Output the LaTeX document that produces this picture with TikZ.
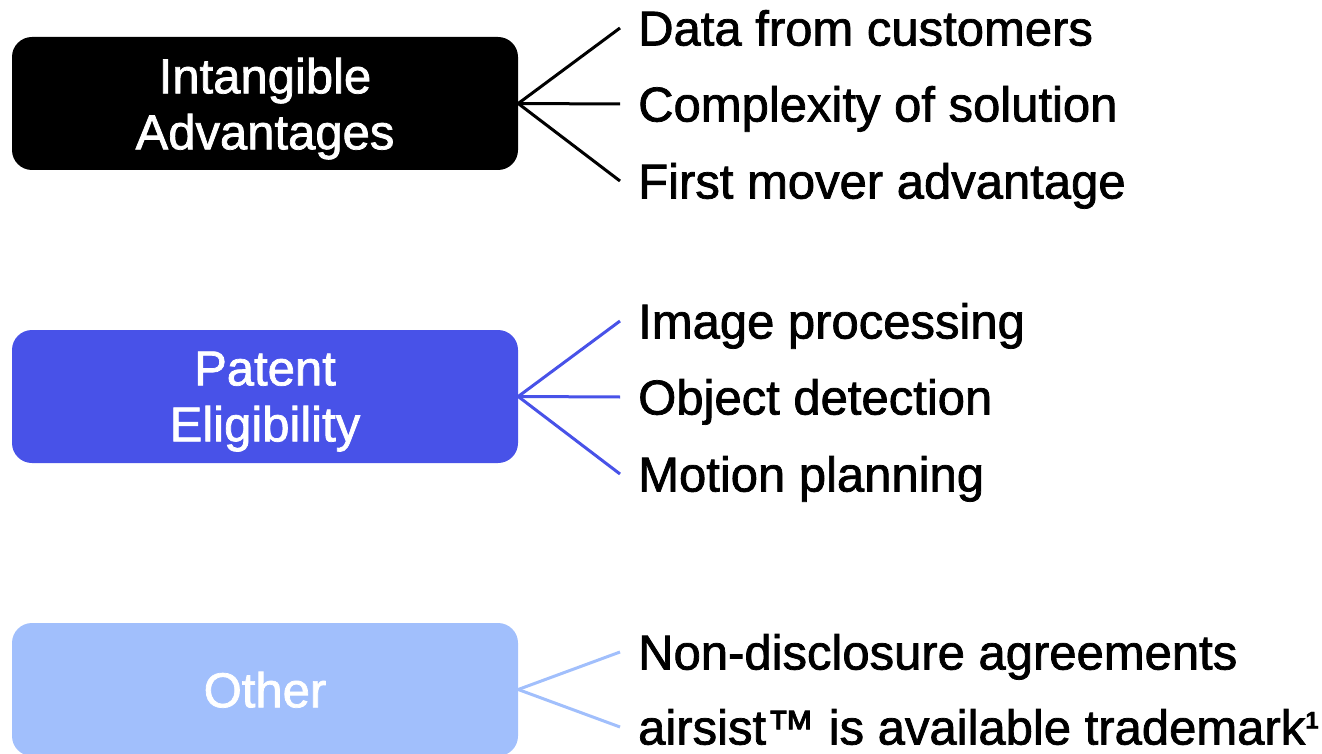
\documentclass[tikz,border=0pt]{standalone}
\usepackage{fontspec}
\setmainfont{Liberation Sans}
\newfontfamily\labelfont[FakeBold=1.5]{Liberation Sans}
\definecolor{patentblue}{HTML}{4852E8}
\definecolor{otherblue}{HTML}{A1BFFC}

\begin{document}
\begin{tikzpicture}[
    x=1pt, y=-1pt,
    category/.style={rounded corners=20pt, minimum width=506pt, minimum height=133pt, align=center, text=white, text depth=0pt, font=\labelfont\fontsize{49}{56}\selectfont},
    item/.style={anchor=west, inner sep=0pt, text height=35pt, text depth=0pt, font=\labelfont\fontsize{49}{56}\selectfont},
    branch/.style={line width=3pt}
]
    \path[use as bounding box] (0,0) rectangle (1322,754);
    \clip (0,0) rectangle (1322,754);

    % Categories
    \node[category, fill=black] (c1) at (265,103.5) {Intangible\\Advantages};
    \node[category, fill=patentblue] (c2) at (265,396.5) {Patent\\Eligibility};
    \node[category, fill=otherblue] (c3) at (265,689.5) {Other};

    % Intangible items
    \node[item] (a1) at (638,28) {Data from customers};
    \node[item] (a2) at (638,104) {Complexity of solution};
    \node[item] (a3) at (638,181) {First mover advantage};

    % Patent items
    \node[item] (p1) at (638,321) {Image processing};
    \node[item] (p2) at (638,397) {Object detection};
    \node[item] (p3) at (638,474) {Motion planning};

    % Other items
    \node[item] (o1) at (638,652) {Non-disclosure agreements};
    \node[item] (o2) at (638,727) {airsist™ is available trademark\raisebox{16pt}{\fontsize{24}{24}\selectfont\bfseries 1}};

    % Branches
    \foreach \i in {1,2,3}
        \draw[branch, black] (c1.east) -- ([xshift=-18pt]a\i.west);

    \foreach \i in {1,2,3}
        \draw[branch, patentblue] (c2.east) -- ([xshift=-18pt]p\i.west);

    \foreach \i in {1,2}
        \draw[branch, otherblue] (c3.east) -- ([xshift=-18pt]o\i.west);
\end{tikzpicture}
\end{document}
